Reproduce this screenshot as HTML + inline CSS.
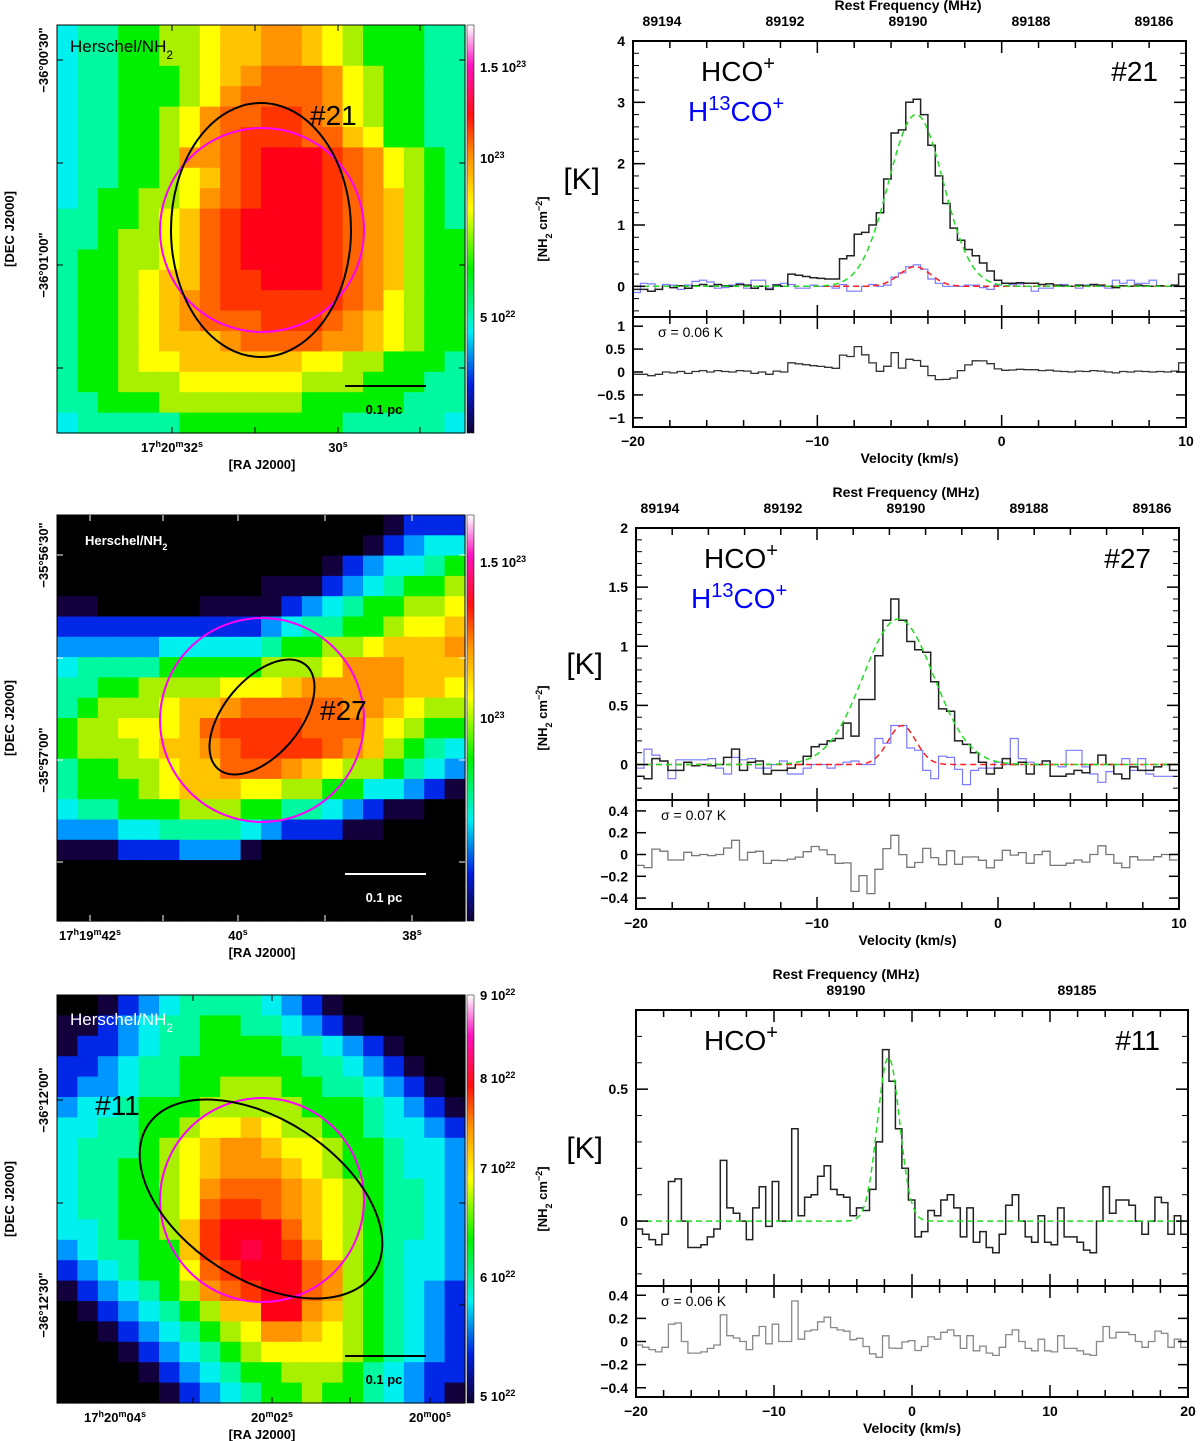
<!DOCTYPE html>
<html><head><meta charset="utf-8"><style>
body{margin:0;background:#fff}
svg{display:block;font-family:"Liberation Sans",sans-serif}
.tk{font-size:14px;font-weight:bold}
</style></head><body>
<svg id="fig" width="1200" height="1441" viewBox="0 0 1200 1441" xmlns="http://www.w3.org/2000/svg">
<defs>
<linearGradient id="cbar" x1="0" y1="1" x2="0" y2="0">
<stop offset="0" stop-color="#100030"/><stop offset="0.12" stop-color="#0020e0"/><stop offset="0.25" stop-color="#00f0f0"/>
<stop offset="0.4" stop-color="#00f000"/><stop offset="0.55" stop-color="#ffff00"/><stop offset="0.68" stop-color="#ff9000"/>
<stop offset="0.78" stop-color="#ff1010"/><stop offset="0.9" stop-color="#ff10c0"/><stop offset="1" stop-color="#ffffff"/>
</linearGradient>
<clipPath id="c1"><rect x="633" y="41" width="553" height="386"/></clipPath>
<clipPath id="c2"><rect x="636" y="528" width="543" height="381"/></clipPath>
<clipPath id="c3"><rect x="636" y="1010" width="552" height="387"/></clipPath>
</defs>
<g id="maps"></g><g id="specs"></g>
</svg>
<script>
// ---------------- map data (color level per cell, rows top->bottom) ----------------
const map1Rows=["4556677899aa98766655","4556677899aa98766655","455666789abbba876655","45566678abbbba876655","4556678abbccba876655","4556678abcccbb986655","455667aabcdddcba8765","45566789bcdddcba8765","4566778abcdddcba9765","5566789bcddddcba9765","5567789bcddddcba9766","5667789bcddddcba9766","5667899bccdddcba9766","566789abccccccba8766","566789abbbcccba98766","56678999abbbbaa98766","56678899999988776665","56677788888877766655","55666777777766666555","45555566666666555554"];
const map2Rows=["00000000000000001222","00000000000000012344","00000000000001234456","00000000001112345667","11000001111234566778","22222222223455667889","3333344444566778999a","45555666667778aaa999","556677778889aaaaa998","56777899abbbbbaa9877","6778889bccccbbb98766","6777899abccccba97654","56677899bbba98776543","56667899988776644321","45566677766554321100","33344555543222110000","11122233310000000000","00000000000000000000","00000000000000000000","00000000000000000000"];
const map3Rows=["00123455554321000000","11234556655432100000","12234556666554321000","22345566666655432100","23345566777665543210","34456667777766654321","44556678898776654432","45556789aa9887665443","45566789aaa987665443","4556678abbba98765543","4556678bccba98765543","4456679cdddb98765543","3455669cdedca8765443","2345668bcdddba765443","1234567abcddba765432","0123456799dda9765432","0012345678aa98765432","00012345678888765432","00001234566777654322","00000123456676654321"];
const levelColors={"0":"#000000","1":"#12003c","2":"#0028e6","3":"#0096ff","4":"#00f0f0","5":"#00f8a0","6":"#00f000","7":"#a8f000","8":"#ffff00","9":"#ffc400","a":"#ff9400","b":"#ff6400","c":"#ff3400","d":"#ff0018","e":"#ff0040"};

// ---------------- spectrum data ----------------
const s1HCO=[-0.05,-0.05,-0.08,-0.05,0,-0.02,0.01,-0.03,0.01,0.03,0,0.03,0.01,0,0.03,0.02,-0.03,0,-0.05,0.02,0.0,0.2,0.18,0.16,0.14,0.13,0.12,0.12,0.45,0.5,0.85,0.88,1.0,1.2,1.75,2.5,2.55,3.0,3.05,2.8,2.3,1.8,1.35,0.95,0.75,0.6,0.5,0.38,0.25,0.1,0.05,0.05,0.06,0.05,0.05,0.03,0.04,0.02,0.01,0.0,0.02,0.01,0.03,0.02,0.0,-0.02,0.01,0.0,0.02,0.01,0.0,0.01,0.0,0.02,0.2];
const s1H13=[-0.1,0.05,0.04,-0.05,0.03,0.02,-0.05,0.02,0.08,0.1,0.07,-0.03,-0.02,0.02,0.05,-0.03,0.1,0.1,-0.03,0.03,0.05,0.03,-0.03,-0.03,0.02,0.0,0.0,-0.03,0.03,-0.08,-0.08,0.0,0.03,0.0,0.02,0.15,0.22,0.32,0.35,0.28,0.12,0.05,0.0,0.0,0.0,0.02,0.02,-0.02,-0.05,0.02,0.05,0.03,0.04,0.0,-0.08,-0.03,-0.03,0.02,0.03,0.0,-0.03,0.02,0.02,0.0,-0.03,0.1,0.05,0.1,0.05,0.05,0.1,0.0,0.0,0.02,0.0];
const s1Fit={amp:2.8,cen:-4.65,fwhm:3.5};
const s1Fit13={amp:0.32,cen:-4.7,fwhm:2.0};
const s2HCO=[-0.1,-0.12,0.05,0.03,-0.05,-0.05,0.02,-0.01,0.0,-0.01,0.0,0.06,0.13,-0.05,0.02,0.03,-0.08,-0.05,-0.05,-0.03,0.0,0.07,0.15,0.17,0.2,0.22,0.35,0.24,0.55,0.55,0.92,1.22,1.4,1.22,1.04,0.97,0.95,0.7,0.47,0.45,0.2,0.17,0.1,0.02,-0.08,-0.03,0.05,0.0,0.02,-0.08,0.0,0.03,-0.1,-0.1,-0.08,-0.05,-0.07,0.0,0.08,0.0,-0.08,-0.12,-0.02,-0.05,-0.05,-0.02,0.0,-0.05];
const s2H13=[-0.03,0.13,0.08,0.03,-0.12,0.04,0.04,0.04,0.04,0.05,-0.03,-0.08,0.06,0.04,0.05,-0.03,-0.03,0.0,0.03,-0.08,-0.08,-0.03,0.0,0.0,-0.03,0.0,0.02,0.03,0.0,0.0,0.22,0.18,0.33,0.33,0.14,0.12,-0.05,-0.12,0.07,0.06,-0.04,-0.17,-0.05,-0.03,-0.03,0.02,0.0,0.22,0.05,0.02,0.0,0.03,0.0,-0.02,0.12,0.12,-0.02,-0.08,-0.15,-0.06,0.0,0.05,-0.05,0.05,-0.08,-0.1,-0.1,-0.1];
const s2Fit={amp:1.23,cen:-5.5,fwhm:4.6};
const s2Fit13={amp:0.33,cen:-5.3,fwhm:1.8};
const s3HCO=[-0.03,-0.05,-0.07,-0.09,-0.05,0.15,0.16,0.0,-0.1,-0.1,-0.09,-0.06,-0.03,0.23,0.05,0.03,0.0,-0.07,0.05,0.13,-0.02,0.15,0.0,0.0,0.35,0.02,0.09,0.1,0.17,0.21,0.12,0.1,0.09,0.02,0.05,0.04,0.12,0.3,0.65,0.53,0.35,0.2,0.08,-0.06,-0.04,0.04,0.02,0.08,0.1,0.05,-0.06,0.05,-0.08,-0.04,-0.1,-0.12,-0.05,0.06,0.1,0.0,-0.06,-0.08,0.02,-0.08,-0.09,0.05,-0.06,-0.06,-0.08,-0.11,-0.12,0.0,0.13,0.03,0.08,0.08,0.06,0.0,-0.05,0.0,0.09,0.07,-0.05,0.02,-0.05];
const s3Fit={amp:0.62,cen:-1.7,fwhm:1.9};
const s1Freq=[89194,89192,89190,89188,89186];
const s2Freq=[89194,89192,89190,89188,89186];
const s3Freq=[89190,89185];

// ---------------- helpers ----------------
const NS="http://www.w3.org/2000/svg";
function mk(parent,tag,attrs,text){const e=document.createElementNS(NS,tag);for(const k in attrs)e.setAttribute(k,attrs[k]);if(text!==undefined)e.textContent=text;parent.appendChild(e);return e;}
const maps=document.getElementById('maps'), specs=document.getElementById('specs');
function gauss(v,f){const s=f.fwhm/2.3548;return f.amp*Math.exp(-0.5*((v-f.cen)/s)**2);}

// ---------------- maps ----------------
function drawMap(cfg){
  const g=mk(maps,'g',{});
  
  
  const n=cfg.rows.length, cw=cfg.w/20, ch=cfg.h/n;
  cfg.rows.forEach((row,r)=>{for(let c=0;c<20;c++){
    const cell=mk(g,'rect',{x:(cfg.x+c*cw).toFixed(2),y:(cfg.y+r*ch).toFixed(2),width:(cw+0.6).toFixed(2),height:(ch+0.6).toFixed(2),fill:levelColors[row[c]]||'#000'});
    
    
  }});
  mk(g,'rect',{x:cfg.x,y:cfg.y,width:cfg.w,height:cfg.h,fill:'none',stroke:'#000','stroke-width':1});
  for(const ty of cfg.yt){mk(g,'line',{x1:cfg.x,x2:cfg.x+6,y1:ty,y2:ty,stroke:cfg.tc,'stroke-width':1});mk(g,'line',{x1:cfg.x+cfg.w-6,x2:cfg.x+cfg.w,y1:ty,y2:ty,stroke:cfg.tc});}
  for(const tx of cfg.xt){mk(g,'line',{x1:tx,x2:tx,y1:cfg.y+cfg.h-6,y2:cfg.y+cfg.h,stroke:cfg.tc});mk(g,'line',{x1:tx,x2:tx,y1:cfg.y,y2:cfg.y+6,stroke:cfg.tc});}
  const cb=mk(g,'rect',{x:cfg.x+cfg.w+2,y:cfg.y,width:7,height:cfg.h,fill:'url(#cbar)',stroke:'#000','stroke-width':0.5});
  
  
  cfg.cbl.forEach(l=>{const t=mk(g,'text',{x:cfg.x+cfg.w+15,y:l[1]+5,'font-size':13,'font-weight':'bold'});t.innerHTML=l[0];
    });
  const cl=mk(g,'text',{transform:`translate(${cfg.x+cfg.w+82},${cfg.y+cfg.h/2}) rotate(-90)`,'text-anchor':'middle','font-size':13,'font-weight':'bold'});
  cl.innerHTML='[NH<tspan font-size="9" baseline-shift="sub">2</tspan> cm<tspan font-size="9" baseline-shift="super">−2</tspan>]';
  
  cfg.decl.forEach(l=>{const t=mk(g,'text',{transform:`translate(48,${l[1]}) rotate(-90)`,'text-anchor':'middle','font-size':13,'font-weight':'bold'},l[0]);
    });
  const dt=mk(g,'text',{transform:`translate(14,${cfg.y+cfg.h/2}) rotate(-90)`,'text-anchor':'middle','font-size':13,'font-weight':'bold'},'[DEC J2000]');
  
  cfg.ral.forEach(l=>{const t=mk(g,'text',{x:l[1],y:cfg.y+cfg.h+19,'text-anchor':'middle','font-size':13,'font-weight':'bold'});t.innerHTML=l[0];
    });
  const rt=mk(g,'text',{x:262,y:cfg.y+cfg.h+36,'text-anchor':'middle','font-size':13,'font-weight':'bold'},'[RA J2000]');
  
  const mc=mk(g,'circle',{cx:262,cy:cfg.y+205,r:102,fill:'none',stroke:'#ff00ff','stroke-width':2});
  
  const e=cfg.ell;const el=mk(g,'ellipse',{cx:e[0],cy:e[1],rx:e[2],ry:e[3],transform:`rotate(${e[4]} ${e[0]} ${e[1]})`,fill:'none',stroke:'#000','stroke-width':2});
  
  const lab=mk(g,'text',{x:cfg.lab[1],y:cfg.lab[2],'font-size':28},cfg.lab[0]);
  
  const hs=mk(g,'text',{x:cfg.hl[0],y:cfg.hl[1],'font-size':cfg.hl[2],fill:cfg.hl[3],'font-weight':cfg.hl[2]<15?'bold':'normal'});
  hs.innerHTML='Herschel/NH<tspan font-size="'+(cfg.hl[2]*0.7)+'" baseline-shift="sub">2</tspan>';
  
  const sb=cfg.y+cfg.h-47;
  mk(g,'line',{x1:345,x2:426,y1:sb,y2:sb,stroke:cfg.sbc,'stroke-width':2});
  const st=mk(g,'text',{x:384,y:sb+28,'text-anchor':'middle','font-size':13,'font-weight':'bold',fill:cfg.sbc},'0.1 pc');
  
}
const sup=(a,b)=>a+'<tspan font-size="9" baseline-shift="super">'+b+'</tspan>';
drawMap({name:'map-core-21',rows:map1Rows,x:57,y:25,w:408,h:408,tc:'#000',yt:[60,163,265,368],xt:[172,255,338,420],
 cbl:[[sup('1.5 10','23'),67],[sup('10','23'),158],[sup('5 10','22'),317]],
 decl:[["−36°00'30\"",60],["−36°01'00\"",265]],ral:[[sup('17','h')+sup('20','m')+sup('32','s'),172],[sup('30','s'),338]],
 ell:[261,230,90,127,0],lab:['#21',310,125],hl:[70,52,17,'#000'],sbc:'#000'});
drawMap({name:'map-core-27',rows:map2Rows,x:57,y:515,w:408,h:406,tc:'#fff',yt:[555,658,760,862],xt:[90,163,238,325,412],
 cbl:[[sup('1.5 10','23'),562],[sup('10','23'),718]],
 decl:[["−35°56'30\"",555],["−35°57'00\"",760]],ral:[[sup('17','h')+sup('19','m')+sup('42','s'),90],[sup('40','s'),238],[sup('38','s'),412]],
 ell:[262,717,38,68,40],lab:['#27',320,720],hl:[85,545,13,'#fff'],sbc:'#fff'});
drawMap({name:'map-core-11',rows:map3Rows,x:57,y:995,w:408,h:408,tc:'#000',yt:[1100,1203,1305],xt:[115,193,272,350,430],
 cbl:[[sup('9 10','22'),995],[sup('8 10','22'),1078],[sup('7 10','22'),1168],[sup('6 10','22'),1277],[sup('5 10','22'),1396]],
 decl:[["−36°12'00\"",1100],["−36°12'30\"",1305]],ral:[[sup('17','h')+sup('20','m')+sup('04','s'),115],[sup('20','m')+sup('02','s'),272],[sup('20','m')+sup('00','s'),430]],
 ell:[261,1199,135,80,33],lab:['#11',95,1115],hl:[70,1025,17,'#fff'],sbc:'#000'});

// ---------------- spectra ----------------
function drawSpec(cfg){
  const g=mk(specs,'g',{});
  
  
  const xs=v=>cfg.L+(v-cfg.v0)/(cfg.v1-cfg.v0)*(cfg.R-cfg.L);
  const ys=y=>cfg.T+(cfg.ymax-y)/(cfg.ymax-cfg.ymin)*(cfg.D-cfg.T);
  const rs=y=>cfg.D+(cfg.rmax-y)/(cfg.rmax-cfg.rmin)*(cfg.B-cfg.D);
  const step=(arr,sc)=>{let d='';arr.forEach((val,i)=>{const a=xs(cfg.start+i*cfg.dv),b=xs(cfg.start+(i+1)*cfg.dv),y=sc(val).toFixed(1);d+=(i?'L':'M')+a.toFixed(1)+' '+y+'L'+b.toFixed(1)+' '+y;});return d;};
  const curve=(f)=>{let d='';for(let v=cfg.v0;v<=cfg.v1+1e-6;v+=0.1){d+=(d?'L':'M')+xs(v).toFixed(1)+' '+ys(gauss(v,f)).toFixed(1);}return d;};
  const cg=mk(g,'g',{'clip-path':`url(#${cfg.clip})`});
  if(cfg.h13){const p=mk(cg,'path',{d:step(cfg.h13,ys),fill:'none',stroke:'#7a7aff','stroke-width':1.2});}
  const p=mk(cg,'path',{d:step(cfg.hco,ys),fill:'none',stroke:'#222','stroke-width':1.5});
  
  if(cfg.fit13){const f=mk(cg,'path',{d:curve(cfg.fit13),fill:'none',stroke:'#ff2020','stroke-width':1.5,'stroke-dasharray':'6 4'});}
  const fg=mk(cg,'path',{d:curve(cfg.fit),fill:'none',stroke:'#22dd22','stroke-width':1.5,'stroke-dasharray':'6 4'});
  
  const res=cfg.hco.map((val,i)=>val-gauss(cfg.start+(i+0.5)*cfg.dv,cfg.fit));
  const rp=mk(cg,'path',{d:step(res,rs),fill:'none',stroke:cfg.rc,'stroke-width':1.3});
  
  mk(g,'rect',{x:cfg.L,y:cfg.T,width:cfg.R-cfg.L,height:cfg.B-cfg.T,fill:'none',stroke:'#000','stroke-width':2});
  mk(g,'line',{x1:cfg.L,x2:cfg.R,y1:cfg.D,y2:cfg.D,stroke:'#000','stroke-width':2});
  for(let v=cfg.v0;v<=cfg.v1+1e-6;v+=2){const big=Math.abs(v%10)<1e-6,len=big?12:7,x=xs(v);
    for(const yy of [cfg.T,cfg.D,cfg.B]){ if(yy!==cfg.T) mk(g,'line',{x1:x,x2:x,y1:yy-len,y2:yy,stroke:'#000','stroke-width':1.5}); if(yy!==cfg.B) mk(g,'line',{x1:x,x2:x,y1:yy,y2:yy+len,stroke:'#000','stroke-width':1.5}); }
    if(big){const t=mk(g,'text',{x:x,y:cfg.B+19,'text-anchor':'middle',class:'tk'},(v<0?'−':'')+Math.abs(v));}}
  const xt=mk(g,'text',{x:(cfg.L+cfg.R)/2,y:cfg.B+36,'text-anchor':'middle',class:'tk'},'Velocity (km/s)');
  
  cfg.yticks.forEach(v=>{const y=ys(v);mk(g,'line',{x1:cfg.L,x2:cfg.L+12,y1:y,y2:y,stroke:'#000','stroke-width':1.5});mk(g,'line',{x1:cfg.R-12,x2:cfg.R,y1:y,y2:y,stroke:'#000','stroke-width':1.5});
    const t=mk(g,'text',{x:cfg.L-8,y:y+5,'text-anchor':'end',class:'tk'},(v<0?'−':'')+Math.abs(v));});
  for(let v=Math.ceil(cfg.ymin/cfg.ym)*cfg.ym;v<=cfg.ymax;v+=cfg.ym){const y=ys(v);mk(g,'line',{x1:cfg.L,x2:cfg.L+6,y1:y,y2:y,stroke:'#000'});mk(g,'line',{x1:cfg.R-6,x2:cfg.R,y1:y,y2:y,stroke:'#000'});}
  cfg.rticks.forEach(v=>{const y=rs(v);mk(g,'line',{x1:cfg.L,x2:cfg.L+10,y1:y,y2:y,stroke:'#000','stroke-width':1.5});mk(g,'line',{x1:cfg.R-10,x2:cfg.R,y1:y,y2:y,stroke:'#000','stroke-width':1.5});
    const t=mk(g,'text',{x:cfg.L-8,y:y+5,'text-anchor':'end',class:'tk'},(v<0?'−':'')+Math.abs(v));});
  cfg.freqs.forEach(f=>{const x=cfg.fx0+(cfg.fc-f)*cfg.fs;const t=mk(g,'text',{x:x,y:cfg.T-15,'text-anchor':'middle',class:'tk'},String(f));});
  const ft=mk(g,'text',{x:cfg.fx0,y:cfg.T-31,'text-anchor':'middle',class:'tk'},'Rest Frequency (MHz)');
  
  const yl=mk(g,'text',{x:cfg.L-33,y:(cfg.T+cfg.D)/2+10,'text-anchor':'end','font-size':30},'[K]');
  
  const sg=mk(g,'text',{x:cfg.L+25,y:cfg.D+20,'font-size':14},'σ = '+cfg.sigma+' K');
  
  const l1=mk(g,'text',{x:cfg.L+68,y:cfg.T+40,'font-size':28});l1.innerHTML='HCO<tspan font-size="20" baseline-shift="super">+</tspan>';
  
  if(cfg.h13){const l2=mk(g,'text',{x:cfg.L+55,y:cfg.T+80,'font-size':28,fill:'#0000ff'});l2.innerHTML='H<tspan font-size="20" baseline-shift="super">13</tspan>CO<tspan font-size="20" baseline-shift="super">+</tspan>';
    }
  const cl=mk(g,'text',{x:cfg.R-28,y:cfg.T+40,'text-anchor':'end','font-size':28},cfg.core);
  
}
drawSpec({name:'spectrum-core-21',clip:'c1',L:633,R:1186,T:41,D:317,B:427,v0:-20,v1:10,start:-20,dv:0.4,ymin:-0.5,ymax:4,ym:0.2,rmin:-1.2,rmax:1.2,
 hco:s1HCO,h13:s1H13,fit:s1Fit,fit13:s1Fit13,rc:'#333',yticks:[0,1,2,3,4],rticks:[-1,-0.5,0,0.5,1],freqs:s1Freq,fc:89190,fx0:908,fs:61.5,sigma:'0.06',core:'#21'});
drawSpec({name:'spectrum-core-27',clip:'c2',L:636,R:1179,T:528,D:800,B:909,v0:-20,v1:10,start:-20,dv:0.44,ymin:-0.3,ymax:2,ym:0.1,rmin:-0.5,rmax:0.5,
 hco:s2HCO,h13:s2H13,fit:s2Fit,fit13:s2Fit13,rc:'#777',yticks:[0,0.5,1,1.5,2],rticks:[-0.4,-0.2,0,0.2,0.4],freqs:s2Freq,fc:89190,fx0:906,fs:61.5,sigma:'0.07',core:'#27'});
drawSpec({name:'spectrum-core-11',clip:'c3',L:636,R:1188,T:1010,D:1286,B:1397,v0:-20,v1:20,start:-20,dv:0.47,ymin:-0.246,ymax:0.8,ym:0.1,rmin:-0.48,rmax:0.48,
 hco:s3HCO,h13:null,fit:s3Fit,fit13:null,rc:'#888',yticks:[0,0.5],rticks:[-0.4,-0.2,0,0.2,0.4],freqs:s3Freq,fc:89190,fx0:846,fs:46.2,sigma:'0.06',core:'#11'});
</script>
</body></html>
